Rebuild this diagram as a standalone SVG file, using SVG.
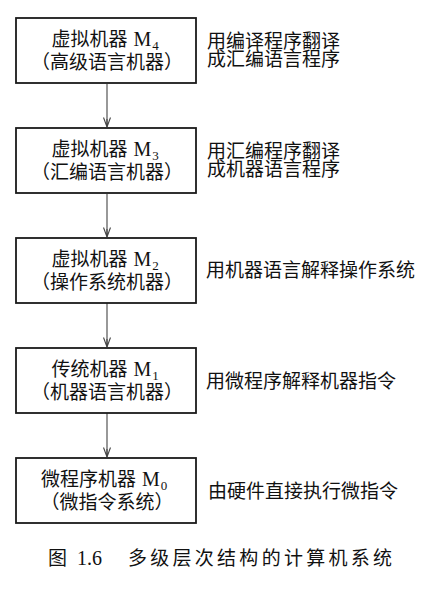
<svg xmlns="http://www.w3.org/2000/svg" width="432" height="591" viewBox="0 0 432 591">
<defs>
<style>
.bg{fill:#fff}
.box{fill:#fff;stroke:#1a1a1a;stroke-width:1.8}
.cn{font-family:"Noto Sans CJK SC","Noto Sans CJK JP",sans-serif;font-size:19px;fill:#111}
.m{font-family:"Liberation Serif",serif;font-size:20px}
.sub{font-family:"Liberation Serif",serif;font-size:13px}
.arr{stroke:#444;stroke-width:1.1;fill:none}
</style>
<marker id="ah" viewBox="0 0 10 8" refX="10" refY="4" markerWidth="10" markerHeight="8" markerUnits="userSpaceOnUse" orient="auto">
<path d="M0.5,0.5 L10,4 L0.5,7.5 M10,4 L2,4" fill="none" stroke="#444" stroke-width="1.1"/>
</marker>
</defs>
<rect class="bg" x="0" y="0" width="432" height="591"/>

<g id="connectors">
<line class="arr" x1="107" y1="84" x2="107" y2="127" marker-end="url(#ah)"/>
<line class="arr" x1="107" y1="194" x2="107" y2="237" marker-end="url(#ah)"/>
<line class="arr" x1="107" y1="303" x2="107" y2="347" marker-end="url(#ah)"/>
<line class="arr" x1="107" y1="413" x2="107" y2="457" marker-end="url(#ah)"/>
</g>

<g id="m4">
<rect class="box" x="16" y="18" width="180" height="65"/>
<text class="cn" x="51.5" y="46">虚拟机器<tspan class="m" dx="6">M</tspan><tspan class="sub" dx="1" dy="4">4</tspan></text>
<text class="cn" x="107" y="68.5" text-anchor="middle">（高级语言机器）</text>
</g>
<g id="m4-label">
<text class="cn" x="207" y="47.5">用编译程序翻译</text>
<text class="cn" x="207" y="66">成汇编语言程序</text>
</g>

<g id="m3">
<rect class="box" x="16" y="128" width="180" height="65"/>
<text class="cn" x="51.5" y="156">虚拟机器<tspan class="m" dx="6">M</tspan><tspan class="sub" dx="1" dy="4">3</tspan></text>
<text class="cn" x="107" y="178.5" text-anchor="middle">（汇编语言机器）</text>
</g>
<g id="m3-label">
<text class="cn" x="207" y="157.5">用汇编程序翻译</text>
<text class="cn" x="207" y="176">成机器语言程序</text>
</g>

<g id="m2">
<rect class="box" x="16" y="238" width="180" height="65"/>
<text class="cn" x="51.5" y="266">虚拟机器<tspan class="m" dx="6">M</tspan><tspan class="sub" dx="1" dy="4">2</tspan></text>
<text class="cn" x="107" y="288.5" text-anchor="middle">（操作系统机器）</text>
</g>
<g id="m2-label">
<text class="cn" x="206" y="277">用机器语言解释操作系统</text>
</g>

<g id="m1">
<rect class="box" x="16" y="348" width="180" height="65"/>
<text class="cn" x="51.5" y="376">传统机器<tspan class="m" dx="6">M</tspan><tspan class="sub" dx="1" dy="4">1</tspan></text>
<text class="cn" x="107" y="398.5" text-anchor="middle">（机器语言机器）</text>
</g>
<g id="m1-label">
<text class="cn" x="206" y="388">用微程序解释机器指令</text>
</g>

<g id="m0">
<rect class="box" x="16" y="458" width="180" height="65"/>
<text class="cn" x="41" y="486">微程序机器<tspan class="m" dx="6">M</tspan><tspan class="sub" dx="1" dy="4">0</tspan></text>
<text class="cn" x="107" y="508.5" text-anchor="middle">（微指令系统）</text>
</g>
<g id="m0-label">
<text class="cn" x="208" y="498">由硬件直接执行微指令</text>
</g>

<g id="caption">
<text class="cn" x="48" y="565">图<tspan class="m" x="77">1.6</tspan><tspan x="128" textLength="264" lengthAdjust="spacing">多级层次结构的计算机系统</tspan></text>
</g>
</svg>
